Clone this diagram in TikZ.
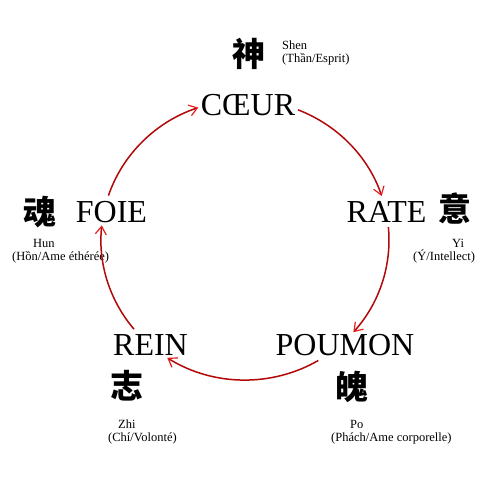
\documentclass[tikz,border=0pt]{standalone}
\usepackage{fontspec}
\setmainfont{Liberation Serif}
\newfontfamily\cjkfont{Noto Sans CJK SC}
\usetikzlibrary{arrows.meta,calc}
\definecolor{arcred}{RGB}{178,8,8}
\definecolor{tipred}{RGB}{230,30,30}
\tikzset{
  organ/.style={inner sep=0pt, anchor=base, font=\fontsize{32}{32}\selectfont},
  hanzi/.style={inner sep=0pt, anchor=center, font=\cjkfont\bfseries\fontsize{33}{33}\selectfont},
  gloss/.style={inner sep=0pt, anchor=base west, font=\fontsize{12.5}{13}\selectfont},
  loopline/.style={draw=arcred, line width=1.5pt,
    -{Straight Barb[length=8pt,width=11pt,color=tipred,line width=1.2pt]}}
}
\begin{document}
\begin{tikzpicture}[x=1pt,y=-1pt]
\useasboundingbox[fill=white] (0,0) rectangle (486,486);
% organs
\node[organ] (coeur) at (248,116) {CŒUR};
\node[organ] (rate) at (386.5,222) {RATE};
\node[organ] (poumon) at (345,355) {POUMON};
\node[organ] (rein) at (150.5,355) {REIN};
\node[organ] (foie) at (111.5,222) {FOIE};
% characters
\node[hanzi] (shen) at (249,54) {神};
\node[hanzi] (yi) at (455,209) {意};
\node[hanzi] (po) at (352,387) {魄};
\node[hanzi] (zhi) at (127,386) {志};
\node[hanzi] (hun) at (40,212) {魂};
% glosses
\node[gloss] (shenA) at (282,50) {Shen};
\node[gloss] (shenB) at (282,63) {(Thần/Esprit)};
\node[gloss] (yiA) at (452,247) {Yi};
\node[gloss] (yiB) at (413,260) {(Ý/Intellect)};
\node[gloss] (poA) at (350,428) {Po};
\node[gloss] (poB) at (331,441) {(Phách/Ame corporelle)};
\node[gloss] (zhiA) at (118,428) {Zhi};
\node[gloss] (zhiB) at (108,441) {(Chí/Volonté)};
\node[gloss] (hunA) at (33,247) {Hun};
\node[gloss] (hunB) at (12,260) {(Hồn/Ame éthérée)};
% cycle on ellipse centre (245,240), radii 144 x 140
\coordinate (ctr) at (245,240);
\coordinate (fc) at ($(ctr)+(-161.5:144 and 140)$);
\coordinate (cr) at ($(ctr)+(-68.4:144 and 140)$);
\coordinate (rp) at ($(ctr)+(-5.3:144 and 140)$);
\coordinate (pr) at ($(ctr)+(59.4:144 and 140)$);
\coordinate (rf) at ($(ctr)+(140.4:144 and 140)$);
\draw[loopline] (fc) arc[start angle=-161.5, end angle=-108.9, x radius=144, y radius=140];
\draw[loopline] (cr) arc[start angle=-68.4, end angle=-18.3, x radius=144, y radius=140];
\draw[loopline] (rp) arc[start angle=-5.3, end angle=41.2, x radius=144, y radius=140];
\draw[loopline] (pr) arc[start angle=59.4, end angle=122.7, x radius=144, y radius=140];
\draw[loopline] (rf) arc[start angle=140.4, end angle=186, x radius=144, y radius=140];
\end{tikzpicture}
\end{document}
